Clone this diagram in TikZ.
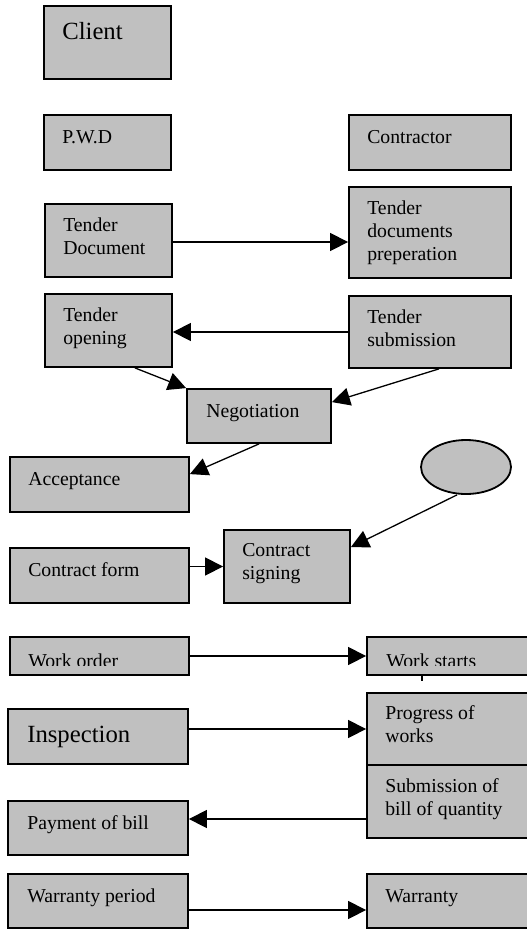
\documentclass[tikz,border=0pt]{standalone}
\usepackage{fontspec}
\setmainfont{Liberation Serif}
\usetikzlibrary{arrows.meta,shapes.geometric}

% multi-line label whose baseline is the first line's baseline
\newcommand{\stackl}[1]{\begin{tabular}[t]{@{}l@{}}#1\end{tabular}}

\tikzset{
  flowbox/.style={draw=black, line width=1.8bp, fill=boxgray, rectangle,
    inner sep=0pt, minimum width=#1},
  flowoval/.style={draw=black, line width=1.8bp, fill=boxgray, ellipse,
    inner sep=0pt, minimum width=90bp, minimum height=54bp},
  lbl/.style={anchor=base west, inner sep=0pt,
    font=\fontsize{19.8}{23.3}\selectfont},
  biglbl/.style={anchor=base west, inner sep=0pt,
    font=\fontsize{24.8}{28}\selectfont},
  link/.style={line width=1.3bp, -{Triangle[length=18bp,width=18bp]}},
}
\definecolor{boxgray}{HTML}{C0C0C0}

\begin{document}
\begin{tikzpicture}[x=1bp, y=-1bp]
\useasboundingbox (0,0) rectangle (527,930);
\clip (0,0) rectangle (527,930);

% ---- boxes (centre, width, height) ----
\node[flowbox=127bp, minimum height=73bp] (client) at (107.5,42.5) {};
\node[flowbox=127bp, minimum height=55bp] (pwd)    at (107.5,142.5) {};
\node[flowbox=162bp, minimum height=55bp] (contr)  at (430,142.5) {};
\node[flowbox=127bp, minimum height=73bp] (tdoc)   at (108.5,240.5) {};
\node[flowbox=162bp, minimum height=91bp] (tprep)  at (430,232.5) {};
\node[flowbox=127bp, minimum height=73bp] (topen)  at (108.5,330.5) {};
\node[flowbox=162bp, minimum height=72bp] (tsub)   at (430,332) {};
\node[flowbox=144bp, minimum height=54bp] (neg)    at (259,416) {};
\node[flowbox=179bp, minimum height=55bp] (accept) at (99.5,484.5) {};
\node[flowoval] (oval) at (466,467) {};
\node[flowbox=179bp, minimum height=55bp] (cform)  at (99.5,575.5) {};
\node[flowbox=126bp, minimum height=73bp] (csign)  at (287,566.5) {};
\node[flowbox=179bp, minimum height=38bp] (worder) at (99.5,656) {};
\node[flowbox=173bp, minimum height=38bp] (wstart) at (453.5,656) {};
\node[flowbox=180bp, minimum height=55bp] (insp)   at (98,736.5) {};
\node[flowbox=173bp, minimum height=72bp] (prog)   at (453.5,729) {};
\node[flowbox=173bp, minimum height=73bp] (subm)   at (453.5,801.5) {};
\node[flowbox=180bp, minimum height=54bp] (pay)    at (98,828) {};
\node[flowbox=180bp, minimum height=54bp] (wper)   at (98,901) {};
\node[flowbox=173bp, minimum height=54bp] (warr)   at (453.5,901) {};

% ---- labels ----
\node[biglbl] (tclient) at ([xshift=19bp,yshift=-34bp]client.north west) {Client};
\node[lbl] (tpwd)    at ([xshift=19bp,yshift=-29bp]pwd.north west) {P.W.D};
\node[lbl] (tcontr)  at ([xshift=19bp,yshift=-29bp]contr.north west) {Contractor};
\node[lbl] (ttdoc)   at ([xshift=19bp,yshift=-28bp]tdoc.north west) {\stackl{Tender\\Document}};
\node[lbl] (ttprep)  at ([xshift=19bp,yshift=-28bp]tprep.north west) {\stackl{Tender\\documents\\preperation}};
\node[lbl] (ttopen)  at ([xshift=19bp,yshift=-28bp]topen.north west) {\stackl{Tender\\opening}};
\node[lbl] (ttsub)   at ([xshift=19bp,yshift=-28bp]tsub.north west) {\stackl{Tender\\submission}};
\node[lbl] (tneg)    at ([xshift=20bp,yshift=-29bp]neg.north west) {Negotiation};
\node[lbl] (taccept) at ([xshift=19bp,yshift=-29bp]accept.north west) {Acceptance};
\node[lbl] (tcform)  at ([xshift=19bp,yshift=-29bp]cform.north west) {Contract form};
\node[lbl] (tcsign)  at ([xshift=19bp,yshift=-27bp]csign.north west) {\stackl{Contract\\signing}};
\node[biglbl] (tinsp) at ([xshift=20bp,yshift=-34bp]insp.north west) {Inspection};
\node[lbl] (tprog)   at ([xshift=19bp,yshift=-27bp]prog.north west) {\stackl{Progress of\\works}};
\node[lbl] (tsubm)   at ([xshift=19bp,yshift=-28bp]subm.north west) {\stackl{Submission of\\bill of quantity}};
\node[lbl] (tpay)    at ([xshift=20bp,yshift=-29bp]pay.north west) {Payment of bill};
\node[lbl] (twper)   at ([xshift=20bp,yshift=-29bp]wper.north west) {Warranty period};
\node[lbl] (twarr)   at ([xshift=19bp,yshift=-29bp]warr.north west) {Warranty};

% the work-order row shows its text cut short at the bottom
\begin{scope}
  \clip (0,600) rectangle (527,665);
  \node[lbl] (tworder) at ([xshift=19bp,yshift=-31bp]worder.north west) {Work order};
  \node[lbl] (twstart) at ([xshift=20bp,yshift=-31bp]wstart.north west) {Work starts};
\end{scope}

% ---- connectors ----
\draw[link] ([yshift=-1.5bp]tdoc.east) -- ([yshift=-1.5bp]tdoc.east -| tprep.west);
\draw[link] (tsub.west) -- (tsub.west -| topen.east);
\draw[link] ([xshift=-38bp]topen.south east) -- (neg.north west);
\draw[link] ([xshift=-73bp]tsub.south east) -- ([yshift=-14bp]neg.north east);
\draw[link] (neg.south) -- ([yshift=-18bp]accept.north east);
\draw[link] ([xshift=-9bp]oval.south) -- ([yshift=-18bp]csign.north east);
\draw[link] (csign.west -| cform.east) -- (csign.west);
\draw[link] (worder.east) -- (wstart.west);
\draw[link] (prog.west -| insp.east) -- (prog.west);
\draw[link] ([yshift=-17.5bp]subm.west) -- ([yshift=-17.5bp]subm.west -| pay.east);
\draw[link] ([yshift=-9bp]wper.east) -- ([yshift=-9bp]warr.west);

% small stub below "Work starts"
\coordinate (stub) at ([xshift=-31.5bp]wstart.south);
\draw[line width=1.2bp] (stub) -- ++(0,5);
\end{tikzpicture}
\end{document}
